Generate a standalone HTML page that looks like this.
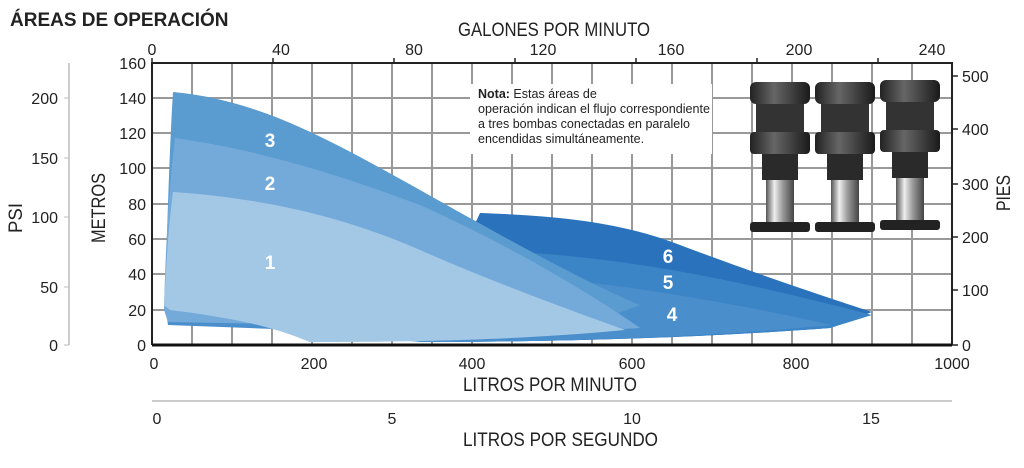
<!DOCTYPE html>
<html><head><meta charset="utf-8"><style>
body{margin:0;background:#fff;width:1024px;height:463px;overflow:hidden}
svg text{font-family:"Liberation Sans Narrow","Liberation Sans",sans-serif;fill:#222}
</style></head><body>
<svg width="1024" height="463" viewBox="0 0 1024 463" xmlns="http://www.w3.org/2000/svg">
<defs>
<linearGradient id="st" x1="0" x2="1"><stop offset="0" stop-color="#555"/><stop offset="0.3" stop-color="#eee"/><stop offset="0.6" stop-color="#999"/><stop offset="1" stop-color="#444"/></linearGradient>
<linearGradient id="mt" x1="0" x2="1"><stop offset="0" stop-color="#222"/><stop offset="0.4" stop-color="#666"/><stop offset="1" stop-color="#1a1a1a"/></linearGradient>
<g id="pump">
<rect x="-30" y="0" width="60" height="22" rx="6" fill="url(#mt)"/>
<rect x="-24" y="22" width="48" height="34" fill="#333"/>
<rect x="-30" y="50" width="60" height="22" rx="4" fill="url(#mt)"/>
<rect x="-18" y="72" width="36" height="26" fill="#2a2a2a"/>
<rect x="-14" y="98" width="28" height="46" fill="url(#st)"/>
<rect x="-30" y="140" width="60" height="10" rx="3" fill="#222"/>
</g>
</defs>
<text x="10" y="26" font-size="19" font-weight="bold" style="font-family:'Liberation Sans',sans-serif">ÁREAS DE OPERACIÓN</text>
<text x="458" y="36" font-size="19" textLength="192" lengthAdjust="spacingAndGlyphs">GALONES POR MINUTO</text>
<!-- grid -->
<g stroke="#999" stroke-width="2">
<line x1="192" y1="63" x2="192" y2="345"/><line x1="232" y1="63" x2="232" y2="345"/><line x1="272" y1="63" x2="272" y2="345"/><line x1="312" y1="63" x2="312" y2="345"/><line x1="352" y1="63" x2="352" y2="345"/><line x1="392" y1="63" x2="392" y2="345"/><line x1="432" y1="63" x2="432" y2="345"/><line x1="472" y1="63" x2="472" y2="345"/><line x1="512" y1="63" x2="512" y2="345"/><line x1="552" y1="63" x2="552" y2="345"/><line x1="592" y1="63" x2="592" y2="345"/><line x1="632" y1="63" x2="632" y2="345"/><line x1="672" y1="63" x2="672" y2="345"/><line x1="712" y1="63" x2="712" y2="345"/><line x1="752" y1="63" x2="752" y2="345"/><line x1="792" y1="63" x2="792" y2="345"/><line x1="832" y1="63" x2="832" y2="345"/><line x1="872" y1="63" x2="872" y2="345"/><line x1="912" y1="63" x2="912" y2="345"/>
<line x1="152" y1="98" x2="952" y2="98"/><line x1="152" y1="133" x2="952" y2="133"/><line x1="152" y1="168" x2="952" y2="168"/><line x1="152" y1="204" x2="952" y2="204"/><line x1="152" y1="239" x2="952" y2="239"/><line x1="152" y1="274" x2="952" y2="274"/><line x1="152" y1="310" x2="952" y2="310"/>
</g>
<!-- note box & pumps -->
<rect x="470" y="84" width="242" height="70" fill="#fff"/>
<text font-size="12.5" style="font-family:'Liberation Sans',sans-serif"><tspan x="478" y="98"><tspan font-weight="bold">Nota:</tspan> Estas áreas de</tspan><tspan x="478" y="113" textLength="232" lengthAdjust="spacingAndGlyphs">operación indican el flujo correspondiente</tspan><tspan x="478" y="128">a tres bombas conectadas en paralelo</tspan><tspan x="478" y="143">encendidas simultáneamente.</tspan></text>
<use href="#pump" x="780" y="82"/><use href="#pump" x="845" y="82"/><use href="#pump" x="910" y="80"/>
<!-- areas -->
<path d="M480,213 C560,216 620,222 680,245 C760,275 820,295 872,312 L830,328 C700,338 550,342 420,342 Z" fill="#2a72bb"/>
<path d="M480,250 C600,255 700,270 872,315 L830,328 C700,338 550,342 420,342 Z" fill="#3b84c6"/>
<path d="M480,272 C600,280 720,300 832,325 C700,338 550,342 420,342 L300,330 L168,325 L166,312 L250,318 Z" fill="#4a8ecc"/>
<path d="M173,92 C260,100 330,140 420,190 C500,235 580,280 640,305 L600,320 L168,320 L165,300 C168,200 170,140 173,92 Z" fill="#5a9bd0"/>
<path d="M175,138 C260,150 340,175 420,205 C520,250 600,300 640,328 L600,330 L168,322 L164,310 C166,230 170,180 175,138 Z" fill="#74aada"/>
<path d="M173,192 C260,198 340,215 420,250 C500,285 570,310 625,330 C540,338 450,342 310,342 C280,330 250,320 170,310 L164,305 C166,270 168,230 173,192 Z" fill="#a3c8e6"/>
<g font-size="19" font-weight="bold" text-anchor="middle" style="font-family:'Liberation Sans',sans-serif">
<text x="270" y="147" style="fill:#fff">3</text><text x="270" y="190" style="fill:#fff">2</text><text x="270" y="269" style="fill:#fff">1</text>
<text x="668" y="263" style="fill:#fff">6</text><text x="668" y="289" style="fill:#fff">5</text><text x="672" y="321" style="fill:#fff">4</text>
</g>
<!-- frame -->
<path d="M152,345 L152,63 L952,63 L952,345" fill="none" stroke="#222" stroke-width="2"/>
<line x1="152" y1="345" x2="952" y2="345" stroke="#111" stroke-width="3"/>
<g stroke="#222" stroke-width="1.5">
<line x1="152" y1="58" x2="152" y2="63"/><line x1="273" y1="58" x2="273" y2="63"/><line x1="394" y1="58" x2="394" y2="63"/><line x1="515" y1="58" x2="515" y2="63"/><line x1="636" y1="58" x2="636" y2="63"/><line x1="757" y1="58" x2="757" y2="63"/><line x1="878" y1="58" x2="878" y2="63"/>
<line x1="952" y1="76" x2="958" y2="76"/><line x1="952" y1="129" x2="958" y2="129"/><line x1="952" y1="184" x2="958" y2="184"/><line x1="952" y1="237" x2="958" y2="237"/><line x1="952" y1="290" x2="958" y2="290"/><line x1="952" y1="345" x2="958" y2="345"/>
</g>
<g font-size="16" text-anchor="middle">
<text x="152" y="55">0</text><text x="281" y="55">40</text><text x="414" y="55">80</text><text x="543" y="55">120</text><text x="671" y="55">160</text><text x="799" y="55">200</text><text x="932" y="55">240</text>
<text x="154" y="369">0</text><text x="314" y="369">200</text><text x="472" y="369">400</text><text x="632" y="369">600</text><text x="796" y="369">800</text><text x="952" y="369">1000</text>
<text x="157" y="424">0</text><text x="392" y="424">5</text><text x="632" y="424">10</text><text x="871" y="424">15</text>
</g>
<g font-size="16" text-anchor="end">
<text x="146" y="69">160</text><text x="146" y="104">140</text><text x="146" y="139">120</text><text x="146" y="174">100</text><text x="146" y="210">80</text><text x="146" y="245">60</text><text x="146" y="280">40</text><text x="146" y="316">20</text><text x="146" y="351">0</text>
<text x="58" y="104">200</text><text x="58" y="164">150</text><text x="58" y="223">100</text><text x="58" y="293">50</text><text x="58" y="351">0</text>
</g>
<g font-size="16"><text x="962" y="82">500</text><text x="962" y="135">400</text><text x="962" y="190">300</text><text x="962" y="243">200</text><text x="962" y="296">100</text><text x="962" y="351">0</text></g>
<line x1="69" y1="63" x2="69" y2="345" stroke="#bbb" stroke-width="1.5"/>
<g stroke="#bbb"><line x1="64" y1="98" x2="69" y2="98"/><line x1="64" y1="158" x2="69" y2="158"/><line x1="64" y1="217" x2="69" y2="217"/><line x1="64" y1="287" x2="69" y2="287"/><line x1="64" y1="345" x2="69" y2="345"/></g>
<line x1="152" y1="401" x2="952" y2="401" stroke="#ccc" stroke-width="2"/>
<text x="463" y="391" font-size="19" textLength="174" lengthAdjust="spacingAndGlyphs">LITROS POR MINUTO</text>
<text x="463" y="446" font-size="19" textLength="195" lengthAdjust="spacingAndGlyphs">LITROS POR SEGUNDO</text>
<text transform="translate(22,218) rotate(-90)" font-size="19" text-anchor="middle" textLength="30" lengthAdjust="spacingAndGlyphs">PSI</text>
<text transform="translate(105,208) rotate(-90)" font-size="19" text-anchor="middle" textLength="70" lengthAdjust="spacingAndGlyphs">METROS</text>
<text transform="translate(1010,193) rotate(-90)" font-size="19" text-anchor="middle" textLength="36" lengthAdjust="spacingAndGlyphs">PIES</text>
</svg>
</body></html>
